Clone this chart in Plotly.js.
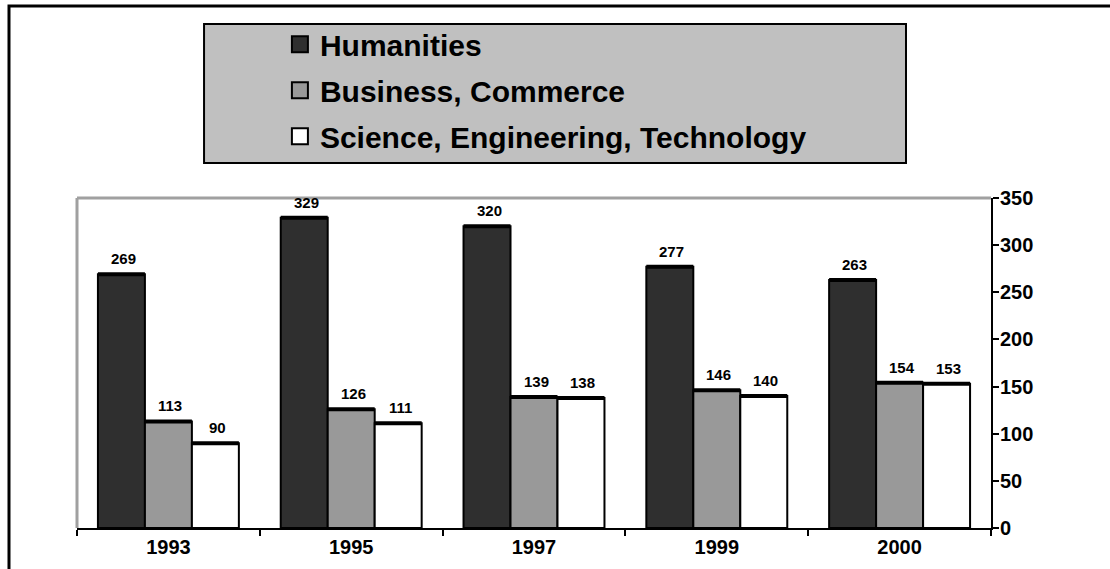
<!DOCTYPE html>
<html>
<head>
<meta charset="utf-8">
<script src="https://cdn.plot.ly/plotly-3.0.1.min.js"></script>
<style>html,body{margin:0;padding:0;background:#fff}#chart{width:1110px;height:569px}</style>
</head>
<body>
<div id="chart"></div>
<script>
const years = ['1993', '1995', '1997', '1999', '2000'];
const humanities = [269, 329, 320, 277, 263];
const business = [113, 126, 139, 146, 154];
const science = [90, 111, 138, 140, 153];
const seriesNames = ['Humanities', 'Business, Commerce', 'Science, Engineering, Technology'];
const seriesColors = ['#2f2f2f', '#999999', '#ffffff'];
const seriesValues = [humanities, business, science];
const yTicks = [0, 50, 100, 150, 200, 250, 300, 350];

const FONT = 'Arial, "Liberation Sans", sans-serif';
const idx = years.map((_, i) => i);
const barW = 0.257;
const offsets = [-1.5 * barW, -0.5 * barW, 0.5 * barW];
const boundaries = years.map((_, i) => i - 0.5).concat([years.length - 0.5]);

const traces = [];
const annotations = [];
seriesValues.forEach((vals, s) => {
  traces.push({
    type: 'bar', x: idx, y: vals, name: seriesNames[s],
    width: barW, offset: offsets[s],
    marker: {color: seriesColors[s], line: {color: '#000', width: 2}},
    showlegend: false, hoverinfo: 'skip'
  });
  vals.forEach((v, i) => {
    annotations.push({x: i + offsets[s] + barW / 2, y: v, xref: 'x', yref: 'y', text: String(v),
      showarrow: false, yanchor: 'bottom', xanchor: 'center', yshift: 5, xshift: 2,
      font: {family: FONT, size: 15, color: '#000', weight: 'bold'}});
  });
});
seriesValues.forEach((vals, s) => {
  const xs = [], ys = [];
  vals.forEach((v, i) => { xs.push(i + offsets[s], i + offsets[s] + barW, null); ys.push(v, v, null); });
  traces.push({type: 'scatter', mode: 'lines', x: xs, y: ys, line: {color: '#000', width: 4},
    showlegend: false, hoverinfo: 'skip', cliponaxis: false});
});
seriesNames.forEach((n, s) => {
  traces.push({type: 'scatter', mode: 'markers', x: [null], y: [null], name: n, legendgroup: 'g' + s,
    marker: {symbol: 'square', size: 16, color: seriesColors[s], line: {color: '#000', width: 2}}});
});

const layout = {
  width: 1110, height: 569,
  margin: {l: 77, r: 119, t: 198, b: 41},
  paper_bgcolor: '#fff', plot_bgcolor: '#fff',
  barmode: 'overlay',
  font: {family: FONT, color: '#000'},
  annotations: annotations,
  xaxis: {
    range: [-0.5, years.length - 0.5], tickmode: 'array', tickvals: idx, ticktext: years,
    ticks: '', showgrid: false, zeroline: false,
    showline: true, linecolor: '#000', linewidth: 2,
    tickfont: {family: FONT, size: 20, color: '#000', weight: 'bold'},
    minor: {tickmode: 'array', tickvals: boundaries, ticks: 'outside', ticklen: 6, tickwidth: 2, tickcolor: '#000', showgrid: false},
    fixedrange: true
  },
  yaxis: {
    range: [0, 350], side: 'right', tickmode: 'array', tickvals: yTicks,
    ticks: 'outside', ticklen: 6, tickwidth: 2, tickcolor: '#000', ticklabelstandoff: -3,
    showgrid: false, zeroline: false, showline: true, linecolor: '#000', linewidth: 2,
    tickfont: {family: FONT, size: 20, color: '#000', weight: 'bold'},
    fixedrange: true
  },
  legend: {
    x: 0.222, xanchor: 'left', y: 1.545, yanchor: 'top',
    bgcolor: 'rgba(0,0,0,0)', borderwidth: 0, tracegroupgap: 4, traceorder: 'grouped',
    font: {family: FONT, size: 30, color: '#000', weight: 'bold'}
  },
  shapes: [
    {type: 'rect', xref: 'paper', yref: 'paper', x0: -0.0744, x1: 1.2, y0: -0.3, y1: 1.582,
      line: {color: '#000', width: 3}, fillcolor: 'rgba(0,0,0,0)', layer: 'below'},
    {type: 'rect', xref: 'paper', yref: 'paper', x0: 0.139, x1: 0.907, y0: 1.106, y1: 1.527,
      line: {color: '#000', width: 2}, fillcolor: '#c0c0c0', layer: 'below'},
    {type: 'line', xref: 'paper', yref: 'paper', x0: 0, x1: 1, y0: 1, y1: 1,
      line: {color: '#a0a0a0', width: 3}, layer: 'below'},
    {type: 'line', xref: 'paper', yref: 'paper', x0: 0, x1: 0, y0: 0, y1: 1,
      line: {color: '#a0a0a0', width: 3}, layer: 'below'}
  ]
};

Plotly.newPlot('chart', traces, layout, {displayModeBar: false, staticPlot: true});
</script>
</body>
</html>
